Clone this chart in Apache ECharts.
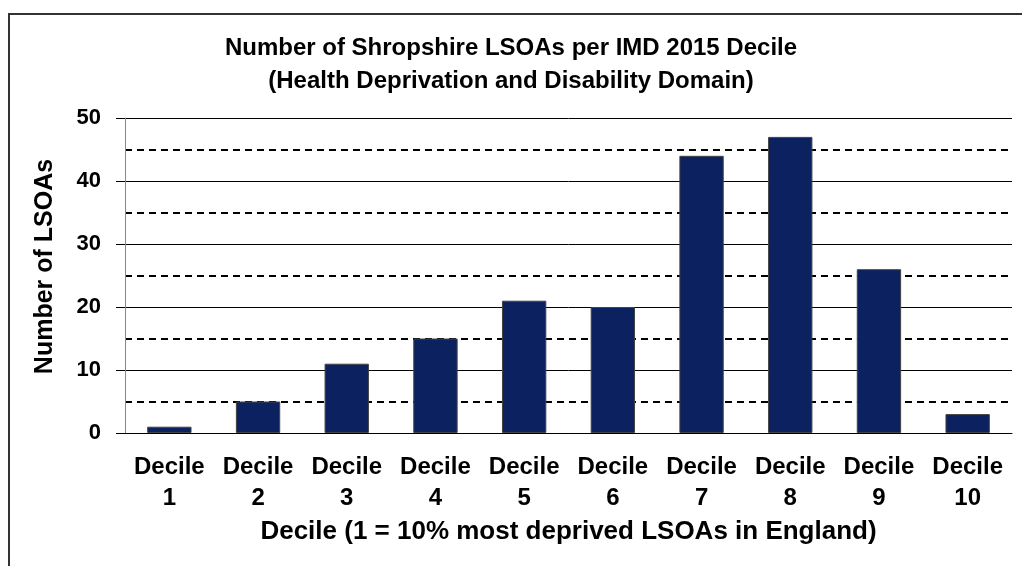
<!DOCTYPE html>
<html>
<head>
<meta charset="utf-8">
<script src="https://cdn.jsdelivr.net/npm/echarts@6/dist/echarts.min.js"></script>
<style>
  html, body { margin: 0; padding: 0; background: #fff; }
  #main { width: 1022px; height: 566px; }
</style>
</head>
<body>
<div id="main"></div>
<script>
// data
const deciles = ['Decile\n1', 'Decile\n2', 'Decile\n3', 'Decile\n4', 'Decile\n5',
                 'Decile\n6', 'Decile\n7', 'Decile\n8', 'Decile\n9', 'Decile\n10'];
const lsoaCounts = [1, 5, 11, 15, 21, 20, 44, 47, 26, 3];
const yTicks = [0, 10, 20, 30, 40, 50];

const font = 'Liberation Sans, Arial, sans-serif';

const myChart = echarts.init(document.getElementById('main'));
myChart.setOption({
  animation: false,
  backgroundColor: '#fff',
  title: {
    text: 'Number of Shropshire LSOAs per IMD 2015 Decile\n(Health Deprivation and Disability Domain)',
    left: 'center',
    top: 27,
    padding: [5, 19, 5, 5],
    textStyle: { fontFamily: font, fontWeight: 'bold', fontSize: 24, lineHeight: 33, color: '#000' }
  },
  graphic: [{
    type: 'rect',
    shape: { x: 9, y: 14, width: 1100, height: 600 },
    style: { fill: 'none', stroke: '#333', lineWidth: 2 }
  }],
  grid: { left: 125, right: 10, top: 118, bottom: 133 },
  xAxis: {
    type: 'category',
    data: deciles,
    name: 'Decile (1 = 10% most deprived LSOAs in England)',
    nameLocation: 'middle',
    nameGap: 84,
    nameTextStyle: { fontFamily: font, fontWeight: 'bold', fontSize: 26, color: '#000' },
    axisLine: { lineStyle: { color: '#000', width: 1 } },
    axisTick: { length: 9, lineStyle: { color: '#777' } },
    axisLabel: { fontFamily: font, fontWeight: 'bold', fontSize: 24, lineHeight: 31, color: '#000', margin: 19, interval: 0 }
  },
  yAxis: [{
    type: 'value',
    min: yTicks[0],
    max: yTicks[yTicks.length - 1],
    interval: 10,
    name: 'Number of LSOAs',
    nameLocation: 'middle',
    nameRotate: 90,
    nameGap: 67,
    nameTextStyle: { fontFamily: font, fontWeight: 'bold', fontSize: 25, color: '#000', padding: [0, 0, 0, 18] },
    axisLine: { show: true, lineStyle: { color: '#888' } },
    axisTick: { show: true, length: 9, lineStyle: { color: '#000' } },
    axisLabel: { fontFamily: font, fontWeight: 'bold', fontSize: 22, color: '#000', margin: 24 },
    splitLine: { show: true, lineStyle: { color: '#000', width: 1 } }
  }, {
    type: 'value',
    position: 'left',
    min: yTicks[0],
    max: yTicks[yTicks.length - 1],
    interval: 5,
    axisLine: { show: false },
    axisTick: { show: false },
    axisLabel: { show: false },
    splitLine: { show: true, lineStyle: { color: ['transparent', '#000'], width: 2, type: [7, 5] } }
  }],
  series: [{
    type: 'bar',
    data: lsoaCounts,
    barWidth: '50%',
    itemStyle: { color: '#0b2160', borderColor: '#444', borderWidth: 1 }
  }]
});
</script>
</body>
</html>
